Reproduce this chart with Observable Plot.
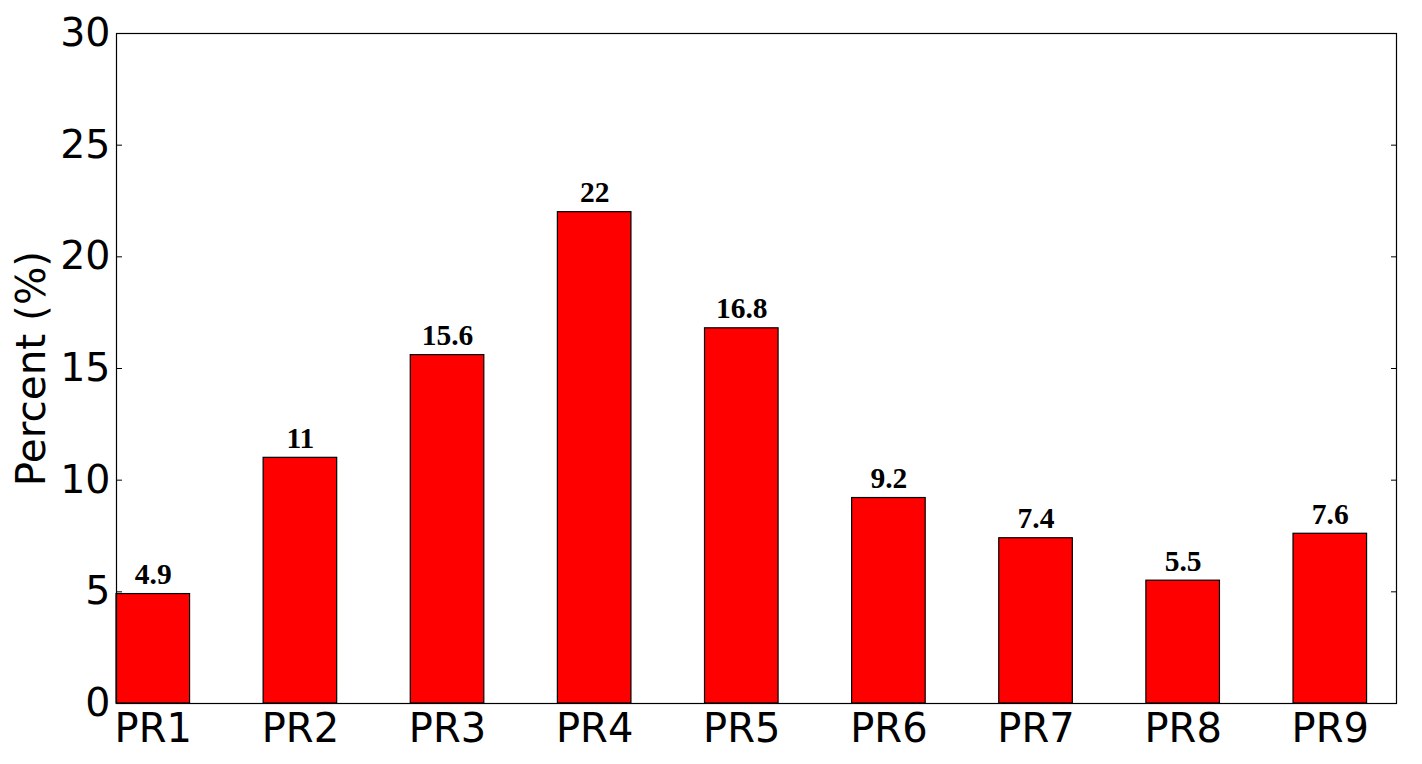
<!DOCTYPE html>
<html>
<head>
<meta charset="utf-8">
<script src="https://cdn.jsdelivr.net/npm/d3@7"></script>
<script src="https://cdn.jsdelivr.net/npm/@observablehq/plot@0.6"></script>
<style>
  html, body { margin: 0; padding: 0; background: #fff; }
</style>
</head>
<body>
<div id="chart"></div>
<script>
const categories = ["PR1", "PR2", "PR3", "PR4", "PR5", "PR6", "PR7", "PR8", "PR9"];
const values = [4.9, 11, 15.6, 22, 16.8, 9.2, 7.4, 5.5, 7.6];
const valueLabels = ["4.9", "11", "15.6", "22", "16.8", "9.2", "7.4", "5.5", "7.6"];
const yTicks = [0, 5, 10, 15, 20, 25, 30];
const yLabel = "Percent (%)";

const barWidth = 0.5;
const data = categories.map((c, i) => ({
  cat: c, i, x1: i, x2: i + barWidth, xc: i + barWidth / 2, v: values[i], label: valueLabels[i]
}));

const chart = Plot.plot({
  width: 1422,
  height: 764,
  marginLeft: 116,
  marginRight: 26,
  marginTop: 33,
  marginBottom: 61,
  style: { fontFamily: "DejaVu Sans", background: "#fff", color: "#000" },
  x: { domain: [0, 8.7] },
  y: { domain: [0, 30] },
  marks: [
    Plot.rectY(data, { x1: "x1", x2: "x2", y1: 0, y2: "v", fill: "#ff0000", stroke: "#000", strokeWidth: 1.2 }),
    Plot.text(data, {
      x: "xc", y: "v", text: "label", dy: -10, lineAnchor: "bottom",
      fontFamily: "Liberation Serif", fontWeight: "bold", fontSize: 29.5, fill: "#000"
    }),
    Plot.axisY({ anchor: "left", ticks: yTicks, tickSize: -6, tickPadding: 12, fontSize: 39.5, label: null, stroke: "#000" }),
    Plot.axisY({ anchor: "right", ticks: yTicks, tickSize: -6, tickFormat: () => "", label: null }),
    Plot.text([yLabel], { frameAnchor: "left", dx: -84, rotate: -90, fontSize: 40.5, fill: "#000", textAnchor: "middle", lineAnchor: "middle" }),
    Plot.axisX({ ticks: data.map(d => d.xc), tickFormat: (d, k) => categories[k], tickSize: 0, tickPadding: 10, fontSize: 40, label: null }),
    Plot.frame({ stroke: "#000", strokeWidth: 1.2 })
  ]
});
document.getElementById("chart").appendChild(chart);
</script>
</body>
</html>
